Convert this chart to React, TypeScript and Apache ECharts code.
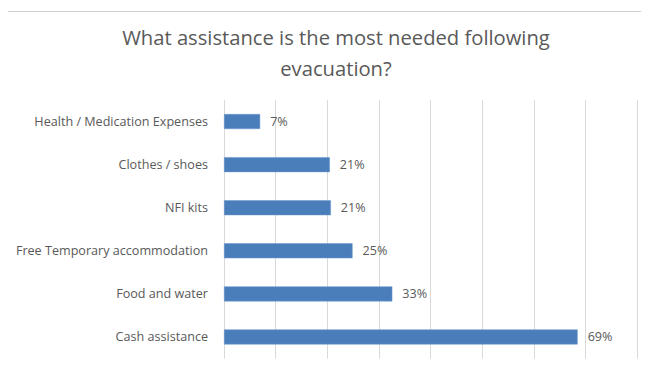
import React, { useEffect, useRef } from "react";
import * as echarts from "echarts";

const titleLines = ["What assistance is the most needed following", "evacuation?"];
const categories = [
  "Health / Medication Expenses",
  "Clothes / shoes",
  "NFI kits",
  "Free Temporary accommodation",
  "Food and water",
  "Cash assistance",
];
const values = [7.0, 20.5, 20.7, 24.9, 32.6, 68.5];
const labels = ["7%", "21%", "21%", "25%", "33%", "69%"];

const FONT = "'Open Sans', 'Noto Sans', sans-serif";
const GRAY = "#595959";

export default function App() {
  const ref = useRef<HTMLDivElement>(null);
  useEffect(() => {
    if (!ref.current) return;
    const chart = echarts.init(ref.current, null, { renderer: "svg" });
    chart.setOption({
      animation: false,
      backgroundColor: "#ffffff",
      graphic: [
        {
          type: "rect",
          shape: { x: 3.5, y: 11.5, width: 700, height: 400 },
          style: { fill: "none", stroke: "#d0d0d0", lineWidth: 1 },
          silent: true,
        },
        ...titleLines.map((t, i) => ({
          type: "text",
          x: 336,
          y: 37 + i * 31,
          silent: true,
          style: {
            text: t,
            fontFamily: FONT,
            fontSize: 20.2,
            fill: GRAY,
            align: "center",
            verticalAlign: "middle",
          },
        })),
      ],
      grid: { left: 224, right: 12, top: 100, bottom: 13.5, containLabel: false },
      xAxis: {
        type: "value",
        min: 0,
        max: 80,
        interval: 10,
        axisLabel: { show: false },
        axisLine: { show: false },
        axisTick: { show: false },
        splitLine: { show: true, lineStyle: { color: "#d9d9d9", width: 1 } },
      },
      yAxis: {
        type: "category",
        inverse: true,
        data: categories,
        axisLine: { show: false },
        axisTick: { show: false },
        axisLabel: {
          fontFamily: FONT,
          fontSize: 12.6,
          color: GRAY,
          margin: 16,
        },
      },
      series: [
        {
          type: "bar",
          data: values,
          barWidth: 15,
          itemStyle: { color: "#4a7ebb", borderColor: "#6a98cf", borderWidth: 0.5 },
          label: {
            show: true,
            position: "right",
            distance: 10,
            fontFamily: FONT,
            fontSize: 12.6,
            color: GRAY,
            formatter: (p: any) => labels[p.dataIndex],
          },
        },
      ],
    });
    return () => chart.dispose();
  }, []);
  return <div ref={ref} style={{ width: 649, height: 372, margin: -8 }} />;
}
